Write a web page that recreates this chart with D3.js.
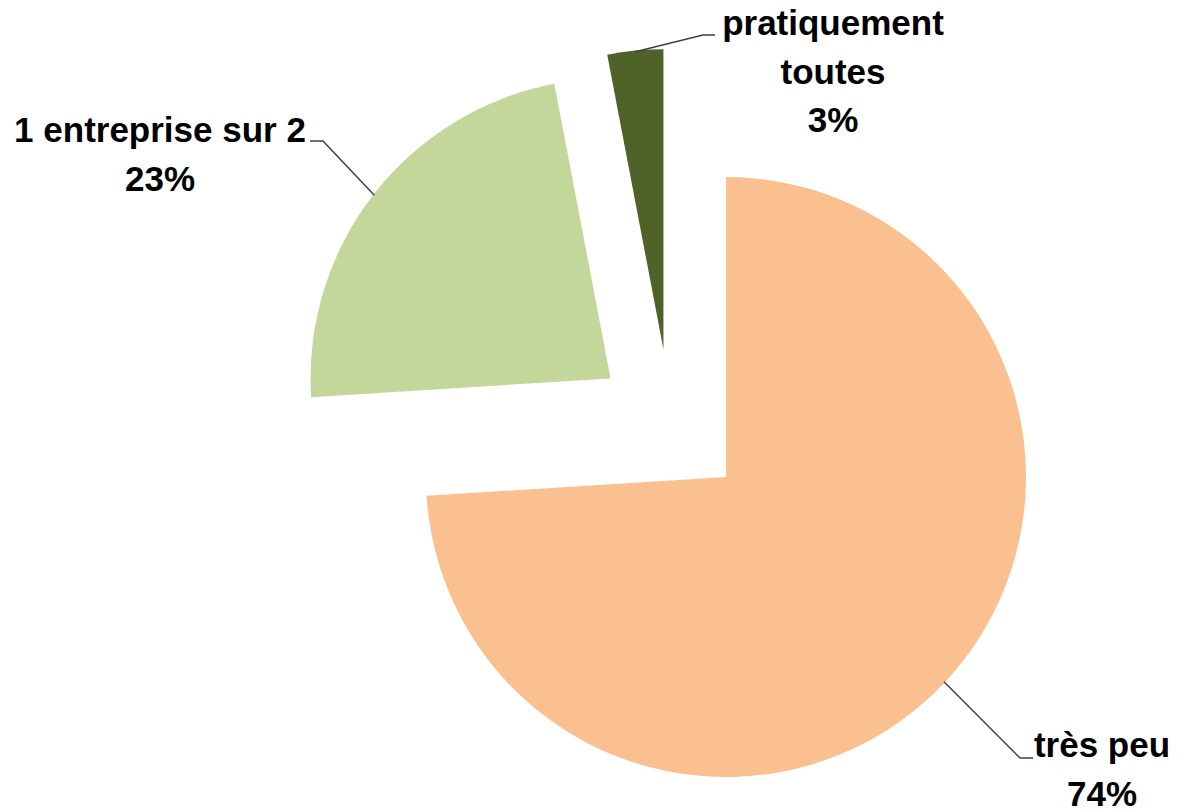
<!DOCTYPE html>
<html>
<head>
<meta charset="utf-8">
<script src="https://cdn.jsdelivr.net/npm/d3@7"></script>
<style>
  html, body { margin: 0; padding: 0; background: #ffffff; }
  svg { display: block; }
</style>
</head>
<body>
<svg id="chart" width="1178" height="812"></svg>
<script>
// données
const categories = ["très peu", "1 entreprise sur 2", "pratiquement toutes"];
const values = [74, 23, 3];
const labelLines = [["très peu"], ["1 entreprise sur 2"], ["pratiquement", "toutes"]];
const colors = ["#FAC090", "#C4D79B", "#4F6228"];

const svg = d3.select("#chart");
const width = 1178, height = 812;
const cx = 670.6, cy = 425;
const radius = 300;
const explode = 76;
const lineHeight = 48.5;

// position des étiquettes (centre du texte, ligne de base) et coude du trait
const labelLayout = [
    { x: 1102, y: 757, elbow: [1020, 758], end: [1033, 758] },
    { x: 160, y: 142, elbow: [323, 141], end: [310, 141] },
    { x: 833, y: 35, elbow: [703, 35], end: [715, 35] }
];

svg.append("rect")
    .attr("width", width)
    .attr("height", height)
    .attr("fill", "#ffffff");

const pie = d3.pie().sort(null).value(d => d);
const arcs = pie(values);

const arc = d3.arc().innerRadius(0).outerRadius(radius);

function offset(a, r) {
    const m = (a.startAngle + a.endAngle) / 2;
    return [Math.sin(m) * r, -Math.cos(m) * r];
}

const g = svg.append("g").attr("transform", `translate(${cx},${cy})`);

g.selectAll("path.slice")
    .data(arcs)
    .join("path")
    .attr("class", "slice")
    .attr("d", arc)
    .attr("fill", (d, i) => colors[i])
    .attr("transform", d => {
        const [dx, dy] = offset(d, explode);
        return `translate(${dx},${dy})`;
    });

// traits de rappel
const line = d3.line();
arcs.forEach((d, i) => {
    const [ox, oy] = offset(d, explode);
    const [px, py] = offset(d, radius - 1);
    const start = [cx + ox + px, cy + oy + py];
    const lay = labelLayout[i];
    svg.append("path")
        .attr("d", line([start, lay.elbow, lay.end]))
        .attr("fill", "none")
        .attr("stroke", "#404040")
        .attr("stroke-width", 1.5);
});

// étiquettes
arcs.forEach((d, i) => {
    const lay = labelLayout[i];
    const lines = labelLines[i].concat([`${values[i]}%`]);
    const t = svg.append("text")
        .attr("text-anchor", "middle")
        .style("font-family", "'Liberation Sans', Arial, sans-serif")
        .style("font-weight", "bold")
        .style("font-size", "35px")
        .attr("fill", "#000000");
    lines.forEach((s, k) => {
        t.append("tspan")
            .attr("x", lay.x)
            .attr("y", lay.y + k * lineHeight)
            .text(s);
    });
});
</script>
</body>
</html>
